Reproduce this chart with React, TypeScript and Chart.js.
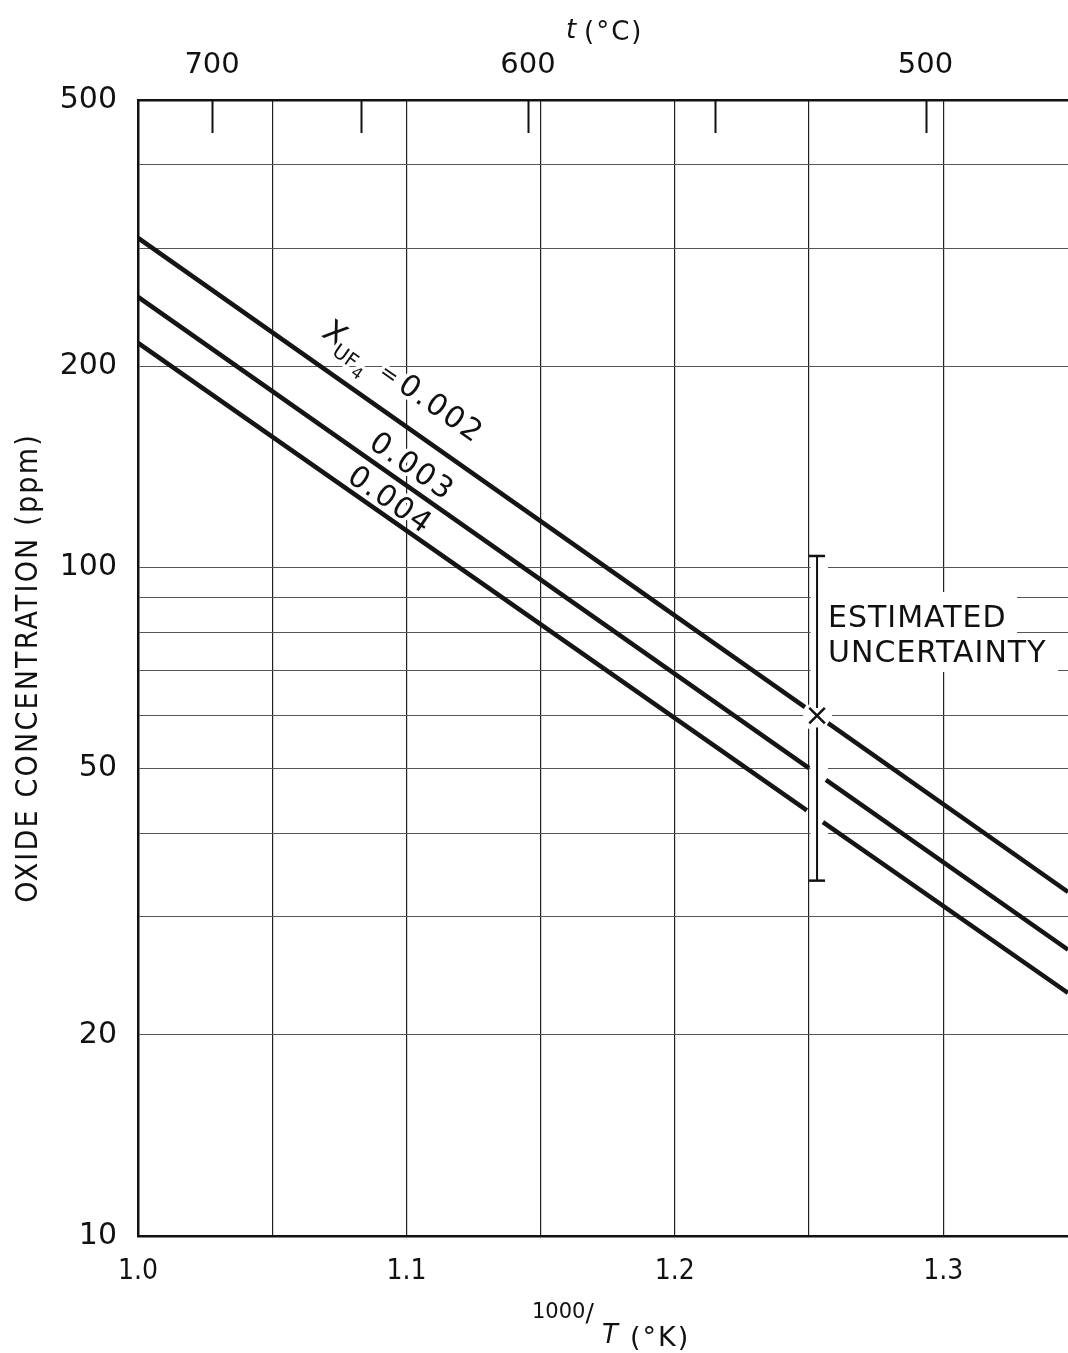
import React, { useEffect, useRef } from "react";
import { Chart, registerables } from "chart.js";

Chart.register(...registerables);

const W = 1068;
const H = 1353;

// ---- data: x = 1000/T (1/K), y = oxide concentration (ppm); null = gap around the uncertainty bar
const uf4_002_x = [1.0, 1.2485, 1.252, 1.2571, 1.3465];
const uf4_002_y = [311, 61.8, null, 58.5, 32.7];
const uf4_003_x = [1.0, 1.25, 1.253, 1.2563, 1.3465];
const uf4_003_y = [253.8, 50.1, null, 48.1, 26.8];
const uf4_004_x = [1.0, 1.2492, 1.253, 1.2552, 1.3465];
const uf4_004_y = [216.6, 43.3, null, 41.6, 23.1];

const uncertaintyX = 1.253;
const uncertaintyCenter = 60;
const uncertaintyBarY = [104, 61.6, null, 57.6, 34];

const xTicks = [1.0, 1.05, 1.1, 1.15, 1.2, 1.25, 1.3];
const xLabeled = [1.0, 1.1, 1.2, 1.3];
const yTicks = [10, 20, 30, 40, 50, 60, 70, 80, 90, 100, 200, 300, 400, 500];
const yLabeled = [10, 20, 50, 100, 200, 500];
const tempTicksC = [700, 650, 600, 550, 500];
const tempLabeledC = [700, 600, 500];

const X_MIN = 1.0;
const X_MAX = 1.3465;
const Y_MIN = 10;
const Y_MAX = 500;

const FONT = '"DejaVu Sans", "Liberation Sans", sans-serif';
const NARROW = '"DejaVu Sans Condensed", "Liberation Sans Narrow", "DejaVu Sans", sans-serif';
const INK = "#111";

const toPts = (xs: number[], ys: (number | null)[]) => xs.map((x, i) => ({ x, y: ys[i] }));

// curve label placement (start along curve in x units, perpendicular offset of baseline in px)
const curveLabelCfg = [
  { ds: 0, startX: 1.0626, offset: 25 },
  { ds: 1, startX: 1.0835, offset: 9.5 },
  { ds: 2, startX: 1.076, offset: 6.5 },
];

function curveFrame(chart: any, dsIndex: number, startX: number, offset: number) {
  const meta = chart.getDatasetMeta(dsIndex);
  const pts = meta.data;
  const p0 = pts[0];
  const p1 = pts[pts.length - 1];
  const a = Math.atan2(p1.y - p0.y, p1.x - p0.x);
  const fx = chart.scales.x.getPixelForValue(startX);
  const t = (fx - p0.x) / (p1.x - p0.x);
  const fy = p0.y + t * (p1.y - p0.y);
  const nx = Math.sin(a);
  const ny = -Math.cos(a);
  return { x: fx + offset * nx, y: fy + offset * ny, a };
}

function drawSeg(ctx: CanvasRenderingContext2D, text: string, x: number, dy: number, font: string, spacing = 0) {
  ctx.font = font;
  (ctx as any).letterSpacing = spacing + "px";
  ctx.strokeText(text, x, dy);
  ctx.fillText(text, x, dy);
  const w = ctx.measureText(text).width;
  (ctx as any).letterSpacing = "0px";
  return x + w;
}

const annotationPlugin = {
  id: "annotations",
  beforeDatasetsDraw(chart: any) {
    const ctx: CanvasRenderingContext2D = chart.ctx;
    const xs = chart.scales.x;
    const ys = chart.scales.y;
    const bx = xs.getPixelForValue(uncertaintyX);
    const top = ys.getPixelForValue(uncertaintyBarY[0] as number);
    const bot = ys.getPixelForValue(uncertaintyBarY[uncertaintyBarY.length - 1] as number);
    const cy = ys.getPixelForValue(uncertaintyCenter);
    ctx.save();
    ctx.fillStyle = "#fff";
    // clear grid around bar and X
    ctx.fillRect(bx - 6.5, top - 2, 17.5, bot - top + 4);
    ctx.fillRect(bx - 14, cy - 11, 29, 24);
    // text boxes
    ctx.fillRect(bx + 7, top + 36, 193, 43);
    ctx.fillRect(bx + 7, top + 79, 234, 37);

    ctx.fillStyle = INK;
    ctx.textBaseline = "alphabetic";
    ctx.textAlign = "left";
    ctx.font = `30px ${FONT}`;
    (ctx as any).letterSpacing = "1px";
    ctx.fillText("ESTIMATED", bx + 11, top + 71);
    ctx.fillText("UNCERTAINTY", bx + 11, top + 106);
    (ctx as any).letterSpacing = "0px";

    // curve labels
    ctx.strokeStyle = "#fff";
    ctx.lineWidth = 7;
    ctx.lineJoin = "round";
    curveLabelCfg.forEach((c, i) => {
      const f = curveFrame(chart, c.ds, c.startX, c.offset);
      ctx.save();
      ctx.translate(f.x, f.y);
      ctx.rotate(f.a);
      if (i === 0) {
        let x = drawSeg(ctx, "X", 0, 0, `31px ${FONT}`);
        x = drawSeg(ctx, "UF", x - 2, 9, `20px ${FONT}`);
        x = drawSeg(ctx, "4", x + 1, 15, `16px ${FONT}`);
        x = drawSeg(ctx, "=", x + 13, -1, `22px ${FONT}`);
        drawSeg(ctx, "0.002", x + 5, 0, `30px ${FONT}`, 2);
      } else {
        drawSeg(ctx, i === 1 ? "0.003" : "0.004", 0, 0, `30px ${FONT}`, 2);
      }
      ctx.restore();
    });
    ctx.restore();
  },
  afterDraw(chart: any) {
    const ctx: CanvasRenderingContext2D = chart.ctx;
    const area = chart.chartArea;
    const top = chart.scales.x2;
    ctx.save();
    // inward ticks for the temperature scale
    ctx.strokeStyle = INK;
    ctx.lineWidth = 2;
    top.ticks.forEach((t: any) => {
      const px = Math.round(top.getPixelForValue(t.value)) + 0.5;
      ctx.beginPath();
      ctx.moveTo(px, area.top);
      ctx.lineTo(px, area.top + 33);
      ctx.stroke();
    });

    ctx.fillStyle = INK;
    ctx.textAlign = "left";
    ctx.textBaseline = "alphabetic";
    // top title
    ctx.font = `italic 26px ${FONT}`;
    ctx.fillText("t", 566, 38);
    ctx.font = `26px ${FONT}`;
    (ctx as any).letterSpacing = "2px";
    ctx.fillText("(°C)", 584, 40);
    (ctx as any).letterSpacing = "0px";

    // bottom title 1000/T (°K)
    ctx.font = `21px ${FONT}`;
    ctx.fillText("1000", 532, 1318);
    const x = 532 + ctx.measureText("1000").width;
    ctx.font = `25px ${FONT}`;
    ctx.fillText("/", x, 1321);
    ctx.font = `italic 26px ${FONT}`;
    ctx.fillText("T", 602, 1343);
    ctx.font = `27px ${FONT}`;
    (ctx as any).letterSpacing = "2px";
    ctx.fillText("(°K)", 630, 1346);
    (ctx as any).letterSpacing = "0px";

    // y title
    ctx.save();
    ctx.translate(37, 668);
    ctx.rotate(-Math.PI / 2);
    ctx.textAlign = "center";
    ctx.font = `30px ${NARROW}`;
    (ctx as any).letterSpacing = "2.2px";
    ctx.fillText("OXIDE CONCENTRATION (ppm)", 0, 0);
    ctx.restore();
    ctx.restore();
  },
};

export default function App() {
  const ref = useRef<HTMLCanvasElement>(null);
  useEffect(() => {
    const lineDs = (xs: number[], ys: (number | null)[], label: string) => ({
      label,
      data: toPts(xs, ys),
      borderColor: "#151515",
      borderWidth: 4.5,
      pointRadius: 0,
      fill: false,
      tension: 0,
      spanGaps: false,
    });
    const chart = new Chart(ref.current as HTMLCanvasElement, {
      type: "line",
      data: {
        datasets: [
          lineDs(uf4_002_x, uf4_002_y, "0.002"),
          lineDs(uf4_003_x, uf4_003_y, "0.003"),
          lineDs(uf4_004_x, uf4_004_y, "0.004"),
          {
            label: "uncertainty",
            data: uncertaintyBarY.map((y) => ({ x: uncertaintyX, y })),
            borderColor: INK,
            borderWidth: 2,
            pointStyle: "line",
            pointRadius: uncertaintyBarY.map((_, i) => (i === 0 || i === uncertaintyBarY.length - 1 ? 8 : 0)),
            pointBorderWidth: 2.5,
            pointBorderColor: INK,
            spanGaps: false,
          } as any,
          {
            label: "center",
            data: [{ x: uncertaintyX, y: uncertaintyCenter }],
            showLine: false,
            pointStyle: "crossRot",
            pointRadius: 11,
            pointBorderWidth: 2.5,
            pointBorderColor: INK,
          } as any,
        ],
      },
      options: {
        responsive: false,
        devicePixelRatio: 1,
        animation: false,
        layout: { padding: 0, autoPadding: false } as any,
        plugins: { legend: { display: false }, tooltip: { enabled: false }, title: { display: false } },
        scales: {
          x: {
            type: "linear",
            position: "bottom",
            min: X_MIN,
            max: X_MAX,
            afterBuildTicks: (s: any) => {
              s.ticks = xTicks.map((v) => ({ value: v }));
            },
            afterFit: (s: any) => {
              s.height = 117;
            },
            ticks: {
              autoSkip: false,
              maxRotation: 0,
              padding: 19,
              color: INK,
              font: { family: NARROW, size: 28 },
              callback: (v: any) => (xLabeled.some((l) => Math.abs(l - v) < 1e-6) ? Number(v).toFixed(1) : ""),
            },
            grid: { color: "#222", lineWidth: 1.2, drawTicks: false },
            border: { color: INK, width: 2.5 },
          },
          x2: {
            type: "linear",
            position: "top",
            min: X_MIN,
            max: X_MAX,
            afterBuildTicks: (s: any) => {
              s.ticks = tempTicksC.map((c) => ({ value: 1000 / (c + 273.15) }));
            },
            afterFit: (s: any) => {
              s.height = 100;
            },
            ticks: {
              autoSkip: false,
              maxRotation: 0,
              padding: 17,
              color: INK,
              font: { family: FONT, size: 29 },
              callback: (v: any) => {
                const c = Math.round(1000 / v - 273.15);
                return tempLabeledC.includes(c) ? String(c) : "";
              },
            },
            grid: { drawOnChartArea: false, drawTicks: false },
            border: { color: INK, width: 2.5 },
          },
          y: {
            type: "logarithmic",
            min: Y_MIN,
            max: Y_MAX,
            afterBuildTicks: (s: any) => {
              s.ticks = yTicks.map((v) => ({ value: v }));
            },
            afterFit: (s: any) => {
              s.width = 138;
            },
            ticks: {
              autoSkip: false,
              padding: 21,
              color: INK,
              font: { family: FONT, size: 30 },
              callback: (v: any) => (yLabeled.includes(Number(v)) ? String(v) : ""),
            },
            grid: { color: "#555", lineWidth: 1.1, drawTicks: false },
            border: { color: INK, width: 2.5 },
          },
        } as any,
      },
      plugins: [annotationPlugin],
    });
    return () => chart.destroy();
  }, []);
  return (
    <div style={{ position: "absolute", left: 0, top: 0, width: W, height: H, background: "#fff" }}>
      <canvas ref={ref} width={W} height={H} style={{ display: "block", width: W, height: H }} />
    </div>
  );
}
